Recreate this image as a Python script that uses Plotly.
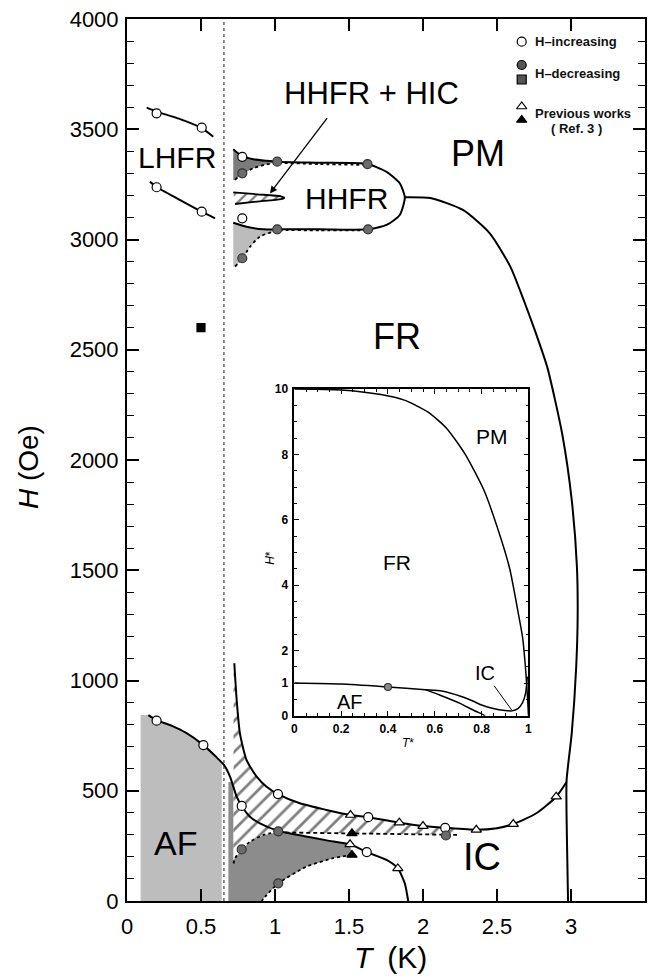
import plotly.graph_objects as go

# ===================== DATA =====================
# Main axes: T (K), H (Oe)
X_TICKS = [0, 0.5, 1, 1.5, 2, 2.5, 3, 3.5]
X_TICK_TEXT = ["0", "0.5", "1", "1.5", "2", "2.5", "3", "3.5"]
Y_TICKS = [0, 500, 1000, 1500, 2000, 2500, 3000, 3500, 4000]
Y_TICK_TEXT = ["0", "500", "1000", "1500", "2000", "2500", "3000", "3500", "4000"]

# boundary: dashed vertical line
T_DASH_V = [0.655, 0.655]
H_DASH_V = [0, 4000]

# LHFR boundaries
LH_UP_T = [0.133, 0.2, 0.35, 0.505, 0.583]
LH_UP_H = [3598, 3580, 3548, 3505, 3466]
LH_LO_T = [0.155, 0.2, 0.35, 0.505, 0.595]
LH_LO_H = [3262, 3238, 3182, 3126, 3096]

# HHFR closed-ish loop (solid)
HH_T = [0.718, 0.775, 0.853, 0.943, 1.015, 1.3, 1.625, 1.754, 1.843, 1.877,
        1.843, 1.754, 1.629, 1.3, 1.015, 0.92, 0.808, 0.718]
HH_H = [3409, 3379, 3364, 3357, 3353, 3348, 3342, 3307, 3255, 3190,
        3111, 3066, 3046, 3046, 3046, 3046, 3058, 3076]
# HHFR dotted (H-decreasing) boundaries
HH_DU_T = [0.73, 0.775, 0.853, 0.943, 1.015, 1.3, 1.625]
HH_DU_H = [3270, 3297, 3323, 3341, 3347, 3342, 3338]
HH_DL_T = [0.73, 0.775, 0.831, 0.898, 1.015, 1.3, 1.629]
HH_DL_H = [2877, 2910, 2967, 3013, 3040, 3041, 3041]
# HHFR wedges (fills)
WEDGE_UP_T = [0.718, 0.775, 0.853, 0.943, 1.015, 0.943, 0.853, 0.775, 0.73, 0.718]
WEDGE_UP_H = [3409, 3379, 3364, 3357, 3352, 3341, 3323, 3297, 3270, 3270]
WEDGE_LO_T = [0.718, 0.808, 0.92, 1.015, 1.01, 0.898, 0.831, 0.775, 0.73, 0.718]
WEDGE_LO_H = [3076, 3058, 3046, 3046, 3040, 3013, 2967, 2910, 2877, 2877]
# HHFR + HIC small hatched wedge
HIC_T = [0.718, 0.88, 1.04, 1.065, 1.04, 0.88, 0.73]
HIC_H = [3214, 3205, 3196, 3189, 3183, 3172, 3161]

# FR / PM boundary
FRPM_T = [1.877, 2.05, 2.27, 2.45, 2.59, 2.68, 2.76, 2.84, 2.94, 3.005,
          3.04, 3.045, 3.035, 3.005, 2.97, 2.972, 2.98]
FRPM_H = [3192, 3188, 3134, 3029, 2877, 2726, 2580, 2420, 2120, 1818,
          1516, 1290, 1060, 760, 545, 300, 0]

# AF boundary (continues as lower IC dome)
AFB_T = [0.144, 0.2, 0.3, 0.4, 0.516, 0.6, 0.655, 0.696, 0.741, 0.775, 0.831,
         0.898, 1.022, 1.2, 1.35, 1.507, 1.62, 1.754, 1.83, 1.877, 1.9]
AFB_H = [843, 820, 795, 762, 707, 655, 617, 564, 473, 431, 382,
         352, 318, 294, 275, 257, 222, 186, 148, 80, 0]

# upper IC boundary
ICU_T = [0.725, 0.741, 0.763, 0.808, 0.876, 0.943, 1.02, 1.168, 1.348, 1.51,
         1.63, 1.84, 2.0, 2.15, 2.36, 2.5, 2.61, 2.766, 2.9, 2.97]
ICU_H = [1078, 912, 760, 639, 564, 518, 485, 443, 413, 390,
         380, 355, 340, 332, 323, 330, 349, 398, 473, 540]

# dotted / dashed (H-decreasing) boundaries near AF/IC
DOT_A_T = [0.72, 0.73, 0.775, 0.831, 0.92, 1.022]
DOT_A_H = [170, 194, 234, 269, 299, 314]
DASH_B_T = [1.022, 1.52, 2.16, 2.23]
DASH_B_H = [311, 307, 300, 300]
DOT_C_T = [1.52, 1.393, 1.213, 1.022, 0.943, 0.91]
DOT_C_H = [209, 194, 156, 80, 27, 0]

# filled regions
AF_FILL_T = [0.092, 0.144, 0.2, 0.3, 0.4, 0.516, 0.6, 0.64, 0.64, 0.092]
AF_FILL_H = [843, 843, 820, 795, 762, 707, 655, 628, 0, 0]
DG_FILL_T = [0.685, 0.685, 0.72, 0.72, 0.73, 0.775, 0.831, 0.92, 1.022, 1.2, 1.35,
             1.507, 1.52, 1.393, 1.213, 1.022, 0.943, 0.91]
DG_FILL_H = [0, 540, 540, 170, 194, 234, 269, 299, 316, 294, 275,
             257, 209, 194, 156, 80, 27, 0]
HATCH_T = [0.72, 0.725, 0.741, 0.763, 0.808, 0.876, 0.943, 1.02, 1.168, 1.348, 1.51,
           1.63, 1.84, 2.0, 2.15, 2.24, 2.24, 1.52, 1.022, 0.92, 0.831, 0.775, 0.73, 0.72]
HATCH_H = [1078, 1078, 912, 760, 639, 564, 518, 485, 443, 413, 390,
           380, 355, 340, 332, 326, 300, 307, 312, 299, 269, 234, 194, 170]

# markers
INC_T = [0.2, 0.505, 0.2, 0.505, 0.779, 0.779, 0.2, 0.516, 0.775, 1.62, 1.02, 1.63, 2.15]
INC_H = [3572, 3507, 3237, 3126, 3375, 3096, 818, 707, 431, 222, 485, 380, 332]
DEC_T = [0.779, 1.015, 1.625, 0.779, 1.015, 1.629, 0.775, 1.022, 1.022, 2.155]
DEC_H = [3300, 3353, 3342, 2915, 3046, 3046, 234, 316, 80, 297]
DEC_SQ_T = [0.5]
DEC_SQ_H = [2600]
PREV_T = [1.507, 1.83, 1.51, 1.84, 2.0, 2.36, 2.61, 2.9]
PREV_H = [257, 148, 390, 355, 340, 323, 349, 473]
PREVF_T = [1.52, 1.52]
PREVF_H = [307, 209]

# Inset: T*, H*
IN_X_TICKS = [0, 0.2, 0.4, 0.6, 0.8, 1]
IN_X_TEXT = ["0", "0.2", "0.4", "0.6", "0.8", "1"]
IN_Y_TICKS = [0, 1, 2, 4, 6, 8, 10]
IN_Y_TEXT = ["0", "1", "2", "4", "6", "8", "10"]
IN_UP_T = [0, 0.2, 0.37, 0.47, 0.57, 0.65, 0.73, 0.81, 0.87, 0.92, 0.955,
           0.975, 0.987, 0.993, 0.998, 1.0]
IN_UP_H = [10, 9.97, 9.83, 9.66, 9.3, 8.8, 8.0, 6.9, 5.7, 4.5, 3.2,
           2.4, 1.5, 0.9, 0.3, 0]
IN_IC1_T = [0, 0.2, 0.4, 0.56, 0.63, 0.71, 0.76, 0.80, 0.85, 0.90, 0.93,
            0.955, 0.975, 0.988, 0.995]
IN_IC1_H = [1.0, 0.97, 0.88, 0.8, 0.76, 0.6, 0.46, 0.33, 0.22, 0.16, 0.15,
            0.22, 0.4, 0.7, 1.2]
IN_IC2_T = [0.56, 0.623, 0.708, 0.765, 0.808, 0.815]
IN_IC2_H = [0.8, 0.63, 0.38, 0.17, 0.03, 0]
IN_DEC_T = [0.4]
IN_DEC_H = [0.88]

# ===================== FIGURE =====================
FONT = "Liberation Sans"
fig = go.Figure()


def fill(T, H, color, pattern=None, xa="x", ya="y"):
    kw = dict(x=T, y=H, mode="lines", fill="toself", fillcolor=color,
              line=dict(width=0, color=color), hoverinfo="skip",
              showlegend=False, xaxis=xa, yaxis=ya)
    if pattern:
        kw["fillpattern"] = pattern
    fig.add_trace(go.Scatter(**kw))


def line(T, H, width=2.0, dash="solid", xa="x", ya="y", spline=True, color="black"):
    fig.add_trace(go.Scatter(
        x=T, y=H, mode="lines",
        line=dict(color=color, width=width, dash=dash,
                  shape="spline" if spline else "linear", smoothing=0.6),
        hoverinfo="skip", showlegend=False, xaxis=xa, yaxis=ya))


def marks(T, H, symbol, fillc, size=9, edge="black", xa="x", ya="y"):
    fig.add_trace(go.Scatter(
        x=T, y=H, mode="markers",
        marker=dict(symbol=symbol, size=size, color=fillc,
                    line=dict(color=edge, width=1.2)),
        hoverinfo="skip", showlegend=False, xaxis=xa, yaxis=ya))


HATCH = dict(shape="/", size=11, solidity=0.25, fgcolor="black", bgcolor="white")

# fills
fill(AF_FILL_T, AF_FILL_H, "#bdbdbd")
fill(DG_FILL_T, DG_FILL_H, "#8c8c8c")
fill(HATCH_T, HATCH_H, "white", HATCH)
fill(WEDGE_UP_T, WEDGE_UP_H, "#7c7c7c")
fill(WEDGE_LO_T, WEDGE_LO_H, "#bcbcbc")
fill(HIC_T, HIC_H, "white", dict(shape="/", size=8, solidity=0.28, fgcolor="black", bgcolor="white"))

# lines
line(T_DASH_V, H_DASH_V, width=1.1, dash="3px,3px", spline=False, color="#333")
line(LH_UP_T, LH_UP_H)
line(LH_LO_T, LH_LO_H)
line(HH_T, HH_H)
line(HH_DU_T, HH_DU_H, width=1.8, dash="dot")
line(HH_DL_T, HH_DL_H, width=1.8, dash="dot")
line(HIC_T[:4], HIC_H[:4], width=1.8)
line(HIC_T[3:], HIC_H[3:], width=1.8)
line(FRPM_T, FRPM_H)
line(AFB_T, AFB_H)
line(ICU_T, ICU_H)
line(DOT_A_T, DOT_A_H, width=1.8, dash="dot")
line(DASH_B_T, DASH_B_H, width=1.8, dash="4px,3px", spline=False)
line(DOT_C_T, DOT_C_H, width=1.8, dash="dot")

# markers
marks(INC_T, INC_H, "circle", "white")
marks(DEC_T, DEC_H, "circle", "#6b6b6b", edge="#333")
marks(DEC_SQ_T, DEC_SQ_H, "square", "black", size=8)
marks(PREV_T, PREV_H, "triangle-up", "white")
marks(PREVF_T, PREVF_H, "triangle-up", "black")

# inset
line(IN_UP_T, IN_UP_H, width=1.5, xa="x2", ya="y2")
line(IN_IC1_T, IN_IC1_H, width=1.5, xa="x2", ya="y2")
line(IN_IC2_T, IN_IC2_H, width=1.5, xa="x2", ya="y2")
marks(IN_DEC_T, IN_DEC_H, "circle", "#8a8a8a", size=7, edge="#333", xa="x2", ya="y2")

# legend key glyphs (layout positions, pixel frame of the plot area)
LEG_X = [521.7, 521.7, 521.7, 521.7, 521.7]
LEG_Y = [41.7, 65, 79.5, 106.5, 120]
LEG_SYM = ["circle", "circle", "square", "triangle-up", "triangle-up"]
LEG_COL = ["white", "#555", "#555", "white", "black"]
fig.add_trace(go.Scatter(
    x=LEG_X, y=LEG_Y, mode="markers", xaxis="x3", yaxis="y3",
    marker=dict(symbol=LEG_SYM, size=9, color=LEG_COL, line=dict(color="black", width=1.2)),
    hoverinfo="skip", showlegend=False))

axis_common = dict(showgrid=False, zeroline=False, showline=True, linecolor="black",
                   ticks="inside", tickcolor="black", mirror="allticks", automargin=False)

fig.update_layout(
    width=653, height=980,
    margin=dict(l=127, r=8, t=19, b=79),
    paper_bgcolor="white", plot_bgcolor="white",
    font=dict(family=FONT, color="black"),
    xaxis=dict(range=[0, 3.5], tickvals=X_TICKS, ticktext=X_TICK_TEXT,
               ticklen=12, tickwidth=1.6, linewidth=2,
               tickfont=dict(size=22, family=FONT), ticklabelstandoff=5, **axis_common),
    yaxis=dict(range=[0, 4000], tickvals=Y_TICKS, ticktext=Y_TICK_TEXT,
               ticklen=12, tickwidth=1.6, linewidth=2,
               minor=dict(dtick=100, ticklen=7, tickwidth=1.4, ticks="inside", tickcolor="black"),
               tickfont=dict(size=22, family=FONT), ticklabelstandoff=2, **axis_common),
    xaxis2=dict(domain=[0.323, 0.775], anchor="y2", range=[0, 1],
                tickvals=IN_X_TICKS, ticktext=IN_X_TEXT, ticklen=5, tickwidth=1, linewidth=1.5,
                minor=dict(dtick=0.05, ticklen=3, ticks="inside", tickcolor="black"),
                tickfont=dict(size=12, family=FONT, weight="bold"), ticklabelstandoff=1,
                **axis_common),
    yaxis2=dict(domain=[0.21, 0.5805], anchor="x2", range=[0, 10],
                tickvals=IN_Y_TICKS, ticktext=IN_Y_TEXT, ticklen=5, tickwidth=1, linewidth=1.5,
                minor=dict(dtick=0.5, ticklen=3, ticks="inside", tickcolor="black"),
                tickfont=dict(size=12, family=FONT, weight="bold"), ticklabelstandoff=2,
                **axis_common),
    xaxis3=dict(overlaying="x", anchor="y3", range=[127, 645], visible=False),
    yaxis3=dict(overlaying="y", anchor="x3", range=[901, 19], visible=False),
)

ann = []


def label(text, x, y, size, xref="x", yref="y", **kw):
    ann.append(dict(text=text, x=x, y=y, xref=xref, yref=yref, showarrow=False,
                    xanchor="center", yanchor="middle",
                    font=dict(size=size, family=FONT, color="black"), **kw))


# region labels
label("LHFR", 0.338, 3370, 30)
label("HHFR", 1.486, 3184, 30)
label("HHFR + HIC", 1.655, 3660, 31)
label("PM", 2.37, 3392, 36)
label("FR", 1.823, 2562, 36)
label("AF", 0.331, 263, 34)
label("IC", 2.397, 200, 38)
# arrow to HHFR+HIC wedge
ann.append(dict(x=0.966, y=3209, ax=1.36, ay=3557, xref="x", yref="y", axref="x", ayref="y",
                showarrow=True, arrowhead=2, arrowsize=1.1, arrowwidth=1.3, arrowcolor="black", text=""))

# inset labels
label("PM", 0.843, 8.56, 21, xref="x2", yref="y2")
label("FR", 0.437, 4.7, 21, xref="x2", yref="y2")
label("AF", 0.238, 0.43, 20, xref="x2", yref="y2")
ann.append(dict(x=0.929, y=0.17, ax=0.815, ay=1.3, xref="x2", yref="y2", axref="x2", ayref="y2",
                text="IC", showarrow=True, arrowhead=0, arrowwidth=1, arrowcolor="black",
                font=dict(size=20, family=FONT, color="black")))
label("<i>H</i>*", 0.276, 0.389, 12, xref="paper", yref="paper", textangle=-90)
label("<i>T</i>*", 0.5425, 0.179, 12, xref="paper", yref="paper")

# axis titles
label("<i>H</i> (Oe)", -0.191, 0.492, 28, xref="paper", yref="paper", textangle=-90)
label("<i>T</i>\u2002(K)", 0.508, -0.0646, 30, xref="paper", yref="paper")

# legend text
LEG_FONT = dict(size=13, family=FONT, color="#111", weight="bold")
for txt, y in [("H\u2013increasing", 41.7), ("H\u2013decreasing", 73), ("Previous works", 113)]:
    ann.append(dict(text=txt, x=533, y=y, xref="x3", yref="y3", xanchor="left",
                    showarrow=False, font=LEG_FONT))
ann.append(dict(text="( Ref. 3 )", x=576.7, y=128.5, xref="x3", yref="y3",
                showarrow=False, font=LEG_FONT))

fig.update_layout(annotations=ann)
fig.write_html("out.html", config={"displayModeBar": False},
               post_script="document.body.style.margin='0';")
